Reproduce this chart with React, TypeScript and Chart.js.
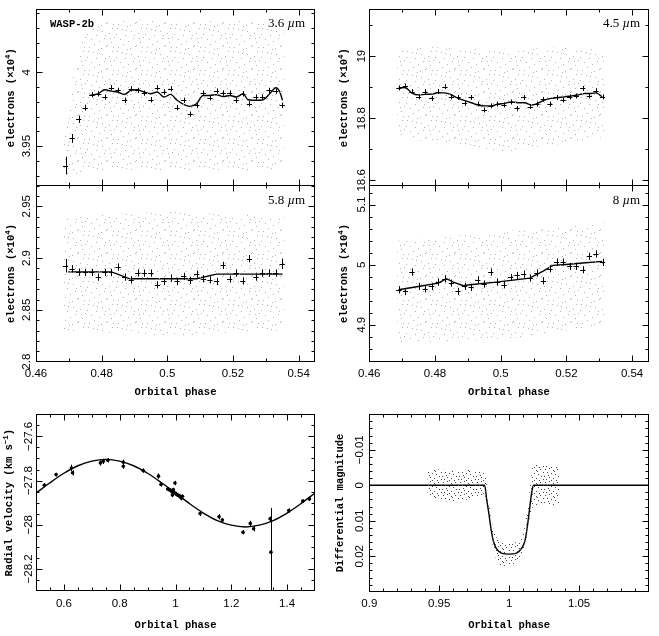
import React, { useEffect, useRef } from "react";
import { Chart, registerables } from "chart.js";
Chart.register(...registerables);

const W = 659;
const H = 636;

// ---------------- 3.6 micron (top left) ----------------
const PHASE_36 = [0.469, 0.471, 0.473, 0.475, 0.477, 0.479, 0.481, 0.483, 0.485, 0.487, 0.489, 0.491, 0.493, 0.495, 0.497, 0.499, 0.501, 0.503, 0.505, 0.507, 0.509, 0.511, 0.513, 0.515, 0.517, 0.519, 0.521, 0.523, 0.525, 0.527, 0.529, 0.531, 0.533, 0.535];
const BIN_36 = [3.9368, 3.9552, 3.9682, 3.976, 3.9848, 3.9854, 3.9832, 3.9895, 3.9877, 3.981, 3.9888, 3.9877, 3.9859, 3.9814, 3.9895, 3.9866, 3.9888, 3.976, 3.981, 3.9716, 3.9776, 3.9859, 3.9827, 3.9872, 3.9859, 3.9859, 3.981, 3.9854, 3.9787, 3.9832, 3.9832, 3.9877, 3.9872, 3.9776];
const ERR_36 = [0.006, 0.003, 0.0025, 0.002, 0.0018, 0.0018, 0.0018, 0.0018, 0.0018, 0.0018, 0.0018, 0.0018, 0.0018, 0.0018, 0.0018, 0.0018, 0.0018, 0.0018, 0.0018, 0.0018, 0.0018, 0.0018, 0.0018, 0.0018, 0.0018, 0.0018, 0.0018, 0.0018, 0.0018, 0.0018, 0.0018, 0.0018, 0.0018, 0.0018];
const MODEL_36_X = [0.4764, 0.4788, 0.481, 0.483, 0.4849, 0.4869, 0.4889, 0.4908, 0.4929, 0.4949, 0.4969, 0.499, 0.501, 0.503, 0.5049, 0.5069, 0.5089, 0.5109, 0.513, 0.515, 0.517, 0.5191, 0.5211, 0.5231, 0.5246, 0.5272, 0.5292, 0.5312, 0.5331, 0.5343, 0.5351];
const MODEL_36_Y = [3.9843, 3.9854, 3.9881, 3.9872, 3.9866, 3.985, 3.9877, 3.9881, 3.9866, 3.9854, 3.9866, 3.9832, 3.985, 3.981, 3.9783, 3.9769, 3.9787, 3.9843, 3.9843, 3.9848, 3.9836, 3.9843, 3.9832, 3.9854, 3.9814, 3.981, 3.9814, 3.9854, 3.9895, 3.9866, 3.981];
const CLOUD_36_X = [0.4685, 0.47, 0.472, 0.474, 0.477, 0.49, 0.505, 0.52, 0.5355];
const CLOUD_36_HI = [3.955, 3.98, 4.005, 4.022, 4.033, 4.036, 4.034, 4.035, 4.032];
const CLOUD_36_LO = [3.924, 3.927, 3.93, 3.932, 3.934, 3.933, 3.934, 3.933, 3.935];

// ---------------- 4.5 micron (top right) ----------------
const PHASE_45 = [0.469, 0.471, 0.473, 0.475, 0.477, 0.479, 0.481, 0.483, 0.485, 0.487, 0.489, 0.491, 0.493, 0.495, 0.497, 0.499, 0.501, 0.503, 0.505, 0.507, 0.509, 0.511, 0.513, 0.515, 0.517, 0.519, 0.521, 0.523, 0.525, 0.527, 0.529, 0.531];
const BIN_45 = [18.898, 18.904, 18.886, 18.869, 18.886, 18.864, 18.886, 18.902, 18.869, 18.867, 18.848, 18.867, 18.846, 18.827, 18.84, 18.846, 18.843, 18.853, 18.832, 18.867, 18.838, 18.846, 18.861, 18.846, 18.867, 18.859, 18.869, 18.872, 18.896, 18.872, 18.889, 18.869];
const ERR_45 = [0.008, 0.008, 0.008, 0.008, 0.008, 0.008, 0.008, 0.008, 0.008, 0.008, 0.008, 0.008, 0.008, 0.008, 0.008, 0.008, 0.008, 0.008, 0.008, 0.008, 0.008, 0.008, 0.008, 0.008, 0.008, 0.008, 0.008, 0.008, 0.008, 0.008, 0.008, 0.008];
const MODEL_45_X = [0.4689, 0.4709, 0.4729, 0.4749, 0.477, 0.479, 0.481, 0.483, 0.4851, 0.4871, 0.4891, 0.4911, 0.4931, 0.4952, 0.4972, 0.4992, 0.5012, 0.5032, 0.5053, 0.5073, 0.5093, 0.5113, 0.5133, 0.5154, 0.5174, 0.5194, 0.5214, 0.5234, 0.5255, 0.5275, 0.529, 0.5309];
const MODEL_45_Y = [18.898, 18.899, 18.882, 18.875, 18.877, 18.878, 18.882, 18.882, 18.875, 18.864, 18.857, 18.85, 18.843, 18.84, 18.84, 18.846, 18.848, 18.853, 18.85, 18.85, 18.843, 18.848, 18.859, 18.864, 18.867, 18.869, 18.872, 18.875, 18.88, 18.88, 18.882, 18.869];
const CLOUD_45_X = [0.4685, 0.48, 0.5, 0.52, 0.5315];
const CLOUD_45_HI = [19.02, 19.03, 19.02, 19.03, 19.02];
const CLOUD_45_LO = [18.74, 18.72, 18.69, 18.72, 18.74];

// ---------------- 5.8 micron (middle left) ----------------
const PHASE_58 = PHASE_36;
const BIN_58 = [2.8926, 2.8897, 2.8864, 2.8861, 2.8861, 2.8816, 2.8861, 2.8861, 2.8913, 2.8816, 2.879, 2.8855, 2.8855, 2.8855, 2.8742, 2.8774, 2.8806, 2.8774, 2.8823, 2.8784, 2.8845, 2.88, 2.879, 2.8774, 2.8929, 2.8797, 2.8855, 2.878, 2.8994, 2.8816, 2.8855, 2.8855, 2.8855, 2.8945];
const ERR_58 = [0.0065, 0.0035, 0.0035, 0.0035, 0.0035, 0.0035, 0.0035, 0.0035, 0.0035, 0.0035, 0.0035, 0.0035, 0.0035, 0.0035, 0.0035, 0.0035, 0.0035, 0.0035, 0.0035, 0.0035, 0.0035, 0.0035, 0.0035, 0.0035, 0.0035, 0.0035, 0.0035, 0.0035, 0.0035, 0.0035, 0.0035, 0.0035, 0.0035, 0.005];
const MODEL_58_X = [0.4698, 0.483, 0.4886, 0.5089, 0.515, 0.5351];
const MODEL_58_Y = [2.8867, 2.8867, 2.88, 2.88, 2.8845, 2.8845];
const CLOUD_58_X = [0.4685, 0.5, 0.5355];
const CLOUD_58_HI = [2.94, 2.945, 2.94];
const CLOUD_58_LO = [2.83, 2.825, 2.83];

// ---------------- 8 micron (middle right) ----------------
const PHASE_8 = PHASE_45;
const BIN_8 = [4.9583, 4.9555, 4.9878, 4.9639, 4.96, 4.9639, 4.9711, 4.9767, 4.9694, 4.9555, 4.9639, 4.9622, 4.975, 4.9678, 4.9878, 4.9711, 4.9667, 4.9789, 4.9822, 4.9844, 4.9778, 4.9861, 4.9733, 4.9933, 5.0044, 5.0044, 4.9972, 4.9972, 4.9917, 5.0139, 5.0178, 5.0039];
const ERR_8 = [0.006, 0.006, 0.006, 0.006, 0.006, 0.006, 0.006, 0.006, 0.006, 0.006, 0.006, 0.006, 0.006, 0.006, 0.006, 0.006, 0.006, 0.006, 0.006, 0.006, 0.006, 0.006, 0.006, 0.006, 0.006, 0.006, 0.006, 0.006, 0.006, 0.006, 0.006, 0.006];
const MODEL_8_X = [0.4689, 0.4749, 0.481, 0.4835, 0.4856, 0.4886, 0.4906, 0.4987, 0.5088, 0.5128, 0.5159, 0.5189, 0.525, 0.5309];
const MODEL_8_Y = [4.9583, 4.9639, 4.9694, 4.9767, 4.9711, 4.965, 4.9667, 4.9711, 4.9778, 4.9889, 4.9989, 5.0, 5.0028, 5.0056];
const CLOUD_8_X = [0.4685, 0.5, 0.5315];
const CLOUD_8_HI = [5.04, 5.055, 5.07];
const CLOUD_8_LO = [4.87, 4.875, 4.9];

// ---------------- Radial velocity (bottom left) ----------------
const RV_PHASE = [0.5296, 0.572, 0.627, 0.631, 0.731, 0.741, 0.757, 0.813, 0.813, 0.884, 0.939, 0.948, 0.972, 0.976, 0.982, 0.986, 0.989, 0.992, 0.995, 0.998, 1.0, 1.004, 1.007, 1.011, 1.015, 1.021, 1.025, 1.088, 1.156, 1.168, 1.242, 1.268, 1.28, 1.339, 1.342, 1.406, 1.456, 1.48];
const RV_VALUE = [-27.821, -27.773, -27.743, -27.765, -27.72, -27.713, -27.708, -27.717, -27.735, -27.755, -27.78, -27.818, -27.838, -27.841, -27.844, -27.85, -27.865, -27.841, -27.853, -27.811, -27.859, -27.863, -27.865, -27.868, -27.871, -27.88, -27.871, -27.949, -27.964, -27.979, -28.034, -27.994, -28.018, -27.973, -28.124, -27.936, -27.893, -27.883];
const RV_ERR = [0.01, 0.008, 0.015, 0.012, 0.012, 0.012, 0.01, 0.012, 0.012, 0.01, 0.012, 0.01, 0.008, 0.008, 0.008, 0.008, 0.01, 0.008, 0.008, 0.01, 0.008, 0.008, 0.008, 0.008, 0.008, 0.01, 0.008, 0.012, 0.012, 0.01, 0.01, 0.012, 0.012, 0.01, 0.2, 0.01, 0.008, 0.01];
const RV_MODEL_X = [0.5, 0.55, 0.6, 0.65, 0.7, 0.75, 0.8, 0.85, 0.9, 0.95, 1.0, 1.05, 1.1, 1.15, 1.2, 1.25, 1.3, 1.35, 1.4, 1.45, 1.5];
const RV_MODEL_Y = [-27.857, -27.81, -27.767, -27.733, -27.712, -27.704, -27.712, -27.733, -27.767, -27.81, -27.857, -27.904, -27.947, -27.981, -28.002, -28.01, -28.002, -27.981, -27.947, -27.904, -27.857];

// ---------------- Transit photometry (bottom right) ----------------
const LC_MODEL_X = [0.9, 0.9824, 0.984, 0.9855, 0.9872, 0.9889, 0.9908, 0.9944, 1.0, 1.0053, 1.0089, 1.0114, 1.013, 1.0145, 1.0162, 1.0174, 1.1];
const LC_MODEL_Y = [0, 0, 0.0042, 0.008, 0.0127, 0.016, 0.0178, 0.0191, 0.0194, 0.0191, 0.0178, 0.0155, 0.0117, 0.007, 0.0019, 0, 0];
const LC_CLOUD_X = [0.9415, 0.95, 0.96, 0.97, 0.98, 0.983, 0.985, 0.987, 0.989, 0.992, 0.996, 1.0, 1.005, 1.009, 1.011, 1.013, 1.015, 1.017, 1.025, 1.036];
const LC_CLOUD_HI = [-0.004, -0.0045, -0.004, -0.0045, -0.004, -0.0035, 0.003, 0.009, 0.013, 0.0155, 0.0165, 0.0165, 0.016, 0.015, 0.012, 0.007, 0.0, -0.006, -0.006, -0.005];
const LC_CLOUD_LO = [0.003, 0.004, 0.005, 0.004, 0.003, 0.004, 0.008, 0.014, 0.019, 0.022, 0.023, 0.023, 0.022, 0.021, 0.018, 0.014, 0.009, 0.006, 0.005, 0.006];

// ---------------- tick labels ----------------
const TICKS_PHASE_TOP = [0.46, 0.48, 0.5, 0.52, 0.54];
const TICKS_Y_36 = [3.95, 4];
const TICKS_Y_45 = [18.6, 18.8, 19];
const TICKS_Y_58 = [2.8, 2.85, 2.9, 2.95];
const TICKS_Y_8 = [4.9, 5, 5.1];
const TICKS_PHASE_RV = [0.6, 0.8, 1, 1.2, 1.4];
const TICKS_Y_RV = [-28.2, -28, -27.8, -27.6];
const TICKS_PHASE_LC = [0.9, 0.95, 1, 1.05];
const TICKS_Y_LC = [-0.01, 0, 0.01, 0.02];

// ---------------- styling ----------------
const SANS = '"Liberation Sans", Arial, sans-serif';
const MONO = '"Liberation Mono", "Courier New", monospace';
const SERIF = '"Liberation Serif", "Times New Roman", serif';
const TICK_FONT = `11.5px ${SANS}`;
const TITLE_FONT = `bold 10.5px ${MONO}`;
const SUP_FONT = `bold 7.5px ${MONO}`;

const TILE_LIGHT = { w: 29, h: 23, dots: [[2, 1], [11, 3], [19, 0], [25, 5], [6, 6], [15, 8], [22, 10], [0, 11], [9, 12], [27, 14], [17, 15], [4, 16], [12, 18], [24, 19], [7, 21], [20, 22], [14, 2], [1, 5], [26, 1], [18, 12], [10, 7], [23, 15]] };
const TILE_DARK = { w: 17, h: 13, dots: [[1, 1], [5, 0], [9, 2], [13, 1], [16, 4], [3, 4], [7, 5], [11, 6], [0, 8], [14, 8], [5, 9], [9, 10], [2, 11], [12, 12], [16, 11], [7, 12], [10, 3], [4, 7]] };

type Seg = { t: string; font: string; dy?: number };
type Box = { x0: number; y0: number; x1: number; y1: number };
type Cross = { xs: number[]; ys: number[]; es: number[]; xe: number };
type Text = { segs: Seg[]; x: number; y: number; align: "left" | "right" };
type Panel = {
  id: string;
  box: Box;
  x: { min: number; max: number; labels: number[]; minor: number; showLabels: boolean };
  y: { min: number; max: number; labels: number[]; minor: number; reverse?: boolean };
  xLabelY: number;
  xTitleY: number;
  yLabelX: number;
  yTitleX: number;
  yTitle: Seg[];
  texts: Text[];
  crosses?: Cross;
  rvErr?: Cross;
  cloud?: { xs: number[]; hi: number[]; lo: number[]; dark?: boolean };
  models: { xs: number[]; ys: number[]; smooth: boolean }[];
  points?: { xs: number[]; ys: number[] };
};

const electronsTitle: Seg[] = [
  { t: "electrons (×10", font: TITLE_FONT },
  { t: "4", font: SUP_FONT, dy: -4 },
  { t: ")", font: TITLE_FONT },
];
const orbital: Seg[] = [{ t: "Orbital phase", font: TITLE_FONT }];
const micron = (n: string): Seg[] => [
  { t: n + " ", font: `13px ${SERIF}` },
  { t: "µ", font: `italic 13px ${SERIF}` },
  { t: "m", font: `13px ${SERIF}` },
];

const PANELS: Panel[] = [
  {
    id: "p36",
    box: { x0: 36, y0: 9.3, x1: 315, y1: 186 },
    x: { min: 0.46, max: 0.545, labels: TICKS_PHASE_TOP, minor: 0.01, showLabels: false },
    y: { min: 3.923, max: 4.0426, labels: TICKS_Y_36, minor: 0.01 },
    xLabelY: 0, xTitleY: 0, yLabelX: 30, yTitleX: 14,
    yTitle: electronsTitle,
    texts: [
      { segs: [{ t: "WASP-2b", font: TITLE_FONT }], x: 50, y: 27, align: "left" },
      { segs: micron("3.6"), x: 305, y: 27, align: "right" },
    ],
    crosses: { xs: PHASE_36, ys: BIN_36, es: ERR_36, xe: 0.0008 },
    cloud: { xs: CLOUD_36_X, hi: CLOUD_36_HI, lo: CLOUD_36_LO },
    models: [{ xs: MODEL_36_X, ys: MODEL_36_Y, smooth: true }],
  },
  {
    id: "p45",
    box: { x0: 369.3, y0: 9.3, x1: 648.5, y1: 186 },
    x: { min: 0.46, max: 0.545, labels: TICKS_PHASE_TOP, minor: 0.01, showLabels: false },
    y: { min: 18.582, max: 19.151, labels: TICKS_Y_45, minor: 0.1 },
    xLabelY: 0, xTitleY: 0, yLabelX: 365, yTitleX: 347,
    yTitle: electronsTitle,
    texts: [{ segs: micron("4.5"), x: 640, y: 27, align: "right" }],
    crosses: { xs: PHASE_45, ys: BIN_45, es: ERR_45, xe: 0.0008 },
    cloud: { xs: CLOUD_45_X, hi: CLOUD_45_HI, lo: CLOUD_45_LO },
    models: [{ xs: MODEL_45_X, ys: MODEL_45_Y, smooth: true }],
  },
  {
    id: "p58",
    box: { x0: 36, y0: 185, x1: 315, y1: 362 },
    x: { min: 0.46, max: 0.545, labels: TICKS_PHASE_TOP, minor: 0.01, showLabels: true },
    y: { min: 2.7997, max: 2.9705, labels: TICKS_Y_58, minor: 0.01 },
    xLabelY: 377, xTitleY: 395, yLabelX: 30, yTitleX: 14,
    yTitle: electronsTitle,
    texts: [{ segs: micron("5.8"), x: 305, y: 204, align: "right" }],
    crosses: { xs: PHASE_58, ys: BIN_58, es: ERR_58, xe: 0.0008 },
    cloud: { xs: CLOUD_58_X, hi: CLOUD_58_HI, lo: CLOUD_58_LO },
    models: [{ xs: MODEL_58_X, ys: MODEL_58_Y, smooth: false }],
  },
  {
    id: "p8",
    box: { x0: 369.3, y0: 185, x1: 648.5, y1: 362 },
    x: { min: 0.46, max: 0.545, labels: TICKS_PHASE_TOP, minor: 0.01, showLabels: true },
    y: { min: 4.8383, max: 5.1325, labels: TICKS_Y_8, minor: 0.02 },
    xLabelY: 377, xTitleY: 395, yLabelX: 365, yTitleX: 347,
    yTitle: electronsTitle,
    texts: [{ segs: micron("8"), x: 640, y: 204, align: "right" }],
    crosses: { xs: PHASE_8, ys: BIN_8, es: ERR_8, xe: 0.0008 },
    cloud: { xs: CLOUD_8_X, hi: CLOUD_8_HI, lo: CLOUD_8_LO },
    models: [{ xs: MODEL_8_X, ys: MODEL_8_Y, smooth: false }],
  },
  {
    id: "prv",
    box: { x0: 36, y0: 414.3, x1: 315, y1: 591 },
    x: { min: 0.5, max: 1.5, labels: TICKS_PHASE_RV, minor: 0.05, showLabels: true },
    y: { min: -28.3, max: -27.5, labels: TICKS_Y_RV, minor: 0.05 },
    xLabelY: 607, xTitleY: 628, yLabelX: 32, yTitleX: 12,
    yTitle: [
      { t: "Radial velocity (km s", font: TITLE_FONT },
      { t: "−1", font: SUP_FONT, dy: -4 },
      { t: ")", font: TITLE_FONT },
    ],
    texts: [],
    rvErr: { xs: RV_PHASE, ys: RV_VALUE, es: RV_ERR, xe: 0 },
    models: [{ xs: RV_MODEL_X, ys: RV_MODEL_Y, smooth: true }],
    points: { xs: RV_PHASE, ys: RV_VALUE },
  },
  {
    id: "plc",
    box: { x0: 369.3, y0: 414.3, x1: 649, y1: 591.7 },
    x: { min: 0.9, max: 1.1, labels: TICKS_PHASE_LC, minor: 0.01, showLabels: true },
    y: { min: -0.02, max: 0.03, labels: TICKS_Y_LC, minor: 0.002, reverse: true },
    xLabelY: 607, xTitleY: 628, yLabelX: 363, yTitleX: 343,
    yTitle: [{ t: "Differential magnitude", font: TITLE_FONT }],
    texts: [],
    cloud: { xs: LC_CLOUD_X, hi: LC_CLOUD_HI, lo: LC_CLOUD_LO, dark: true },
    models: [{ xs: LC_MODEL_X, ys: LC_MODEL_Y, smooth: true }],
  },
];

const pts = (xs: number[], ys: number[]) => xs.map((x, i) => ({ x, y: ys[i] }));
const fmt = (v: number) => String(v).replace("-", "−");

function minorTicks(min: number, max: number, step: number): number[] {
  const out: number[] = [];
  const k0 = Math.ceil(min / step - 1e-6);
  const k1 = Math.floor(max / step + 1e-6);
  for (let k = k0; k <= k1; k++) out.push(+(k * step).toFixed(6));
  return out;
}

function drawRich(ctx: CanvasRenderingContext2D, segs: Seg[], x: number, y: number, align: "left" | "center" | "right", rotate: boolean) {
  ctx.save();
  ctx.translate(x, y);
  if (rotate) ctx.rotate(-Math.PI / 2);
  ctx.textBaseline = "alphabetic";
  ctx.textAlign = "left";
  let total = 0;
  const widths = segs.map((s) => {
    ctx.font = s.font;
    const w = ctx.measureText(s.t).width;
    total += w;
    return w;
  });
  let cx = align === "left" ? 0 : align === "center" ? -total / 2 : -total;
  segs.forEach((s, i) => {
    ctx.font = s.font;
    ctx.fillText(s.t, cx, s.dy || 0);
    cx += widths[i];
  });
  ctx.restore();
}

function makePattern(ctx: CanvasRenderingContext2D, dark: boolean) {
  const tileDef = dark ? TILE_DARK : TILE_LIGHT;
  const tile = document.createElement("canvas");
  tile.width = tileDef.w;
  tile.height = tileDef.h;
  const g = tile.getContext("2d")!;
  g.fillStyle = dark ? "#474747" : "#b4b4b4";
  tileDef.dots.forEach(([a, b]) => g.fillRect(a, b, 1, 1));
  return ctx.createPattern(tile, "repeat");
}

function decor(p: Panel) {
  return {
    id: "decor_" + p.id,
    afterDatasetsDraw(chart: any) {
      const ctx: CanvasRenderingContext2D = chart.ctx;
      const sx = chart.scales.x;
      const sy = chart.scales.y;
      const a = chart.chartArea;
      ctx.save();
      ctx.beginPath();
      ctx.rect(a.left, a.top, a.right - a.left, a.bottom - a.top);
      ctx.clip();
      ctx.strokeStyle = "#000";
      ctx.lineWidth = 1;
      const c = p.crosses || p.rvErr;
      if (c) {
        ctx.beginPath();
        c.xs.forEach((xv, i) => {
          const yv = c.ys[i];
          const px = Math.round(sx.getPixelForValue(xv)) + 0.5;
          const py = Math.round(sy.getPixelForValue(yv)) + 0.5;
          if (c.xe > 0) {
            ctx.moveTo(sx.getPixelForValue(xv - c.xe), py);
            ctx.lineTo(sx.getPixelForValue(xv + c.xe), py);
          }
          ctx.moveTo(px, sy.getPixelForValue(yv - c.es[i]));
          ctx.lineTo(px, sy.getPixelForValue(yv + c.es[i]));
        });
        ctx.stroke();
      }
      ctx.restore();
    },
    afterDraw(chart: any) {
      const ctx: CanvasRenderingContext2D = chart.ctx;
      const sx = chart.scales.x;
      const sy = chart.scales.y;
      const a = chart.chartArea;
      const L = Math.round(a.left) + 0.5;
      const R = Math.round(a.right) - 0.5;
      const T = Math.round(a.top) + 0.5;
      const B = Math.round(a.bottom) - 0.5;
      ctx.save();
      ctx.strokeStyle = "#000";
      ctx.lineWidth = 1;
      ctx.strokeRect(L, T, R - L, B - T);
      const isMajor = (v: number, labels: number[], step: number) => labels.some((l) => Math.abs(l - v) < step / 10);
      ctx.beginPath();
      minorTicks(p.x.min, p.x.max, p.x.minor).forEach((v) => {
        const px = Math.round(sx.getPixelForValue(v)) + 0.5;
        if (px < L + 1 || px > R - 1) return;
        const len = isMajor(v, p.x.labels, p.x.minor) ? 6 : 3;
        ctx.moveTo(px, B);
        ctx.lineTo(px, B - len);
        ctx.moveTo(px, T);
        ctx.lineTo(px, T + len);
      });
      minorTicks(p.y.min, p.y.max, p.y.minor).forEach((v) => {
        const py = Math.round(sy.getPixelForValue(v)) + 0.5;
        if (py < T + 1 || py > B - 1) return;
        const len = isMajor(v, p.y.labels, p.y.minor) ? 6 : 3;
        ctx.moveTo(L, py);
        ctx.lineTo(L + len, py);
        ctx.moveTo(R, py);
        ctx.lineTo(R - len, py);
      });
      ctx.stroke();

      ctx.fillStyle = "#000";
      if (p.x.showLabels) {
        p.x.labels.forEach((v) => {
          drawRich(ctx, [{ t: fmt(v), font: TICK_FONT }], sx.getPixelForValue(v), p.xLabelY, "center", false);
        });
        drawRich(ctx, orbital, (a.left + a.right) / 2, p.xTitleY, "center", false);
      }
      p.y.labels.forEach((v) => {
        drawRich(ctx, [{ t: fmt(v), font: TICK_FONT }], p.yLabelX, sy.getPixelForValue(v), "center", true);
      });
      drawRich(ctx, p.yTitle, p.yTitleX, (a.top + a.bottom) / 2, "center", true);
      p.texts.forEach((t) => drawRich(ctx, t.segs, t.x, t.y, t.align, false));
      ctx.restore();
    },
  };
}

function buildConfig(p: Panel, canvas: HTMLCanvasElement): any {
  const ctx = canvas.getContext("2d")!;
  const datasets: any[] = [];
  if (p.cloud) {
    datasets.push({
      data: pts(p.cloud.xs, p.cloud.hi),
      fill: "+1",
      backgroundColor: makePattern(ctx, !!p.cloud.dark),
      borderColor: "rgba(0,0,0,0)",
      borderWidth: 1,
      pointRadius: 0,
      tension: 0,
    });
    datasets.push({
      data: pts(p.cloud.xs, p.cloud.lo),
      fill: false,
      borderColor: "rgba(0,0,0,0)",
      borderWidth: 1,
      pointRadius: 0,
      tension: 0,
    });
  }
  p.models.forEach((m) => {
    datasets.push({
      data: pts(m.xs, m.ys),
      fill: false,
      borderColor: "#000",
      borderWidth: 1.4,
      pointRadius: 0,
      cubicInterpolationMode: m.smooth ? "monotone" : "default",
      tension: 0,
    });
  });
  if (p.points) {
    datasets.push({
      data: pts(p.points.xs, p.points.ys),
      showLine: false,
      pointRadius: 1.8,
      pointBackgroundColor: "#000",
      pointBorderWidth: 0,
      borderColor: "#000",
    });
  }
  return {
    type: "line",
    data: { datasets },
    options: {
      animation: false,
      responsive: false,
      maintainAspectRatio: false,
      devicePixelRatio: 1,
      events: [],
      layout: { padding: { left: p.box.x0, top: p.box.y0, right: W - p.box.x1, bottom: H - p.box.y1 } },
      plugins: { legend: { display: false }, tooltip: { enabled: false } },
      scales: {
        x: { type: "linear", display: false, min: p.x.min, max: p.x.max },
        y: { type: "linear", display: false, min: p.y.min, max: p.y.max, reverse: !!p.y.reverse },
      },
    },
    plugins: [decor(p)],
  };
}

export default function App() {
  const refs = useRef<(HTMLCanvasElement | null)[]>([]);
  useEffect(() => {
    const charts = PANELS.map((p, i) => {
      const cv = refs.current[i]!;
      return new Chart(cv, buildConfig(p, cv));
    });
    return () => charts.forEach((c) => c.destroy());
  }, []);
  return (
    <div style={{ position: "absolute", left: 0, top: 0, width: W, height: H, background: "#fff", overflow: "hidden" }}>
      {PANELS.map((p, i) => (
        <canvas
          key={p.id}
          ref={(el) => {
            refs.current[i] = el;
          }}
          width={W}
          height={H}
          style={{ position: "absolute", left: 0, top: 0, width: W, height: H }}
        />
      ))}
    </div>
  );
}
